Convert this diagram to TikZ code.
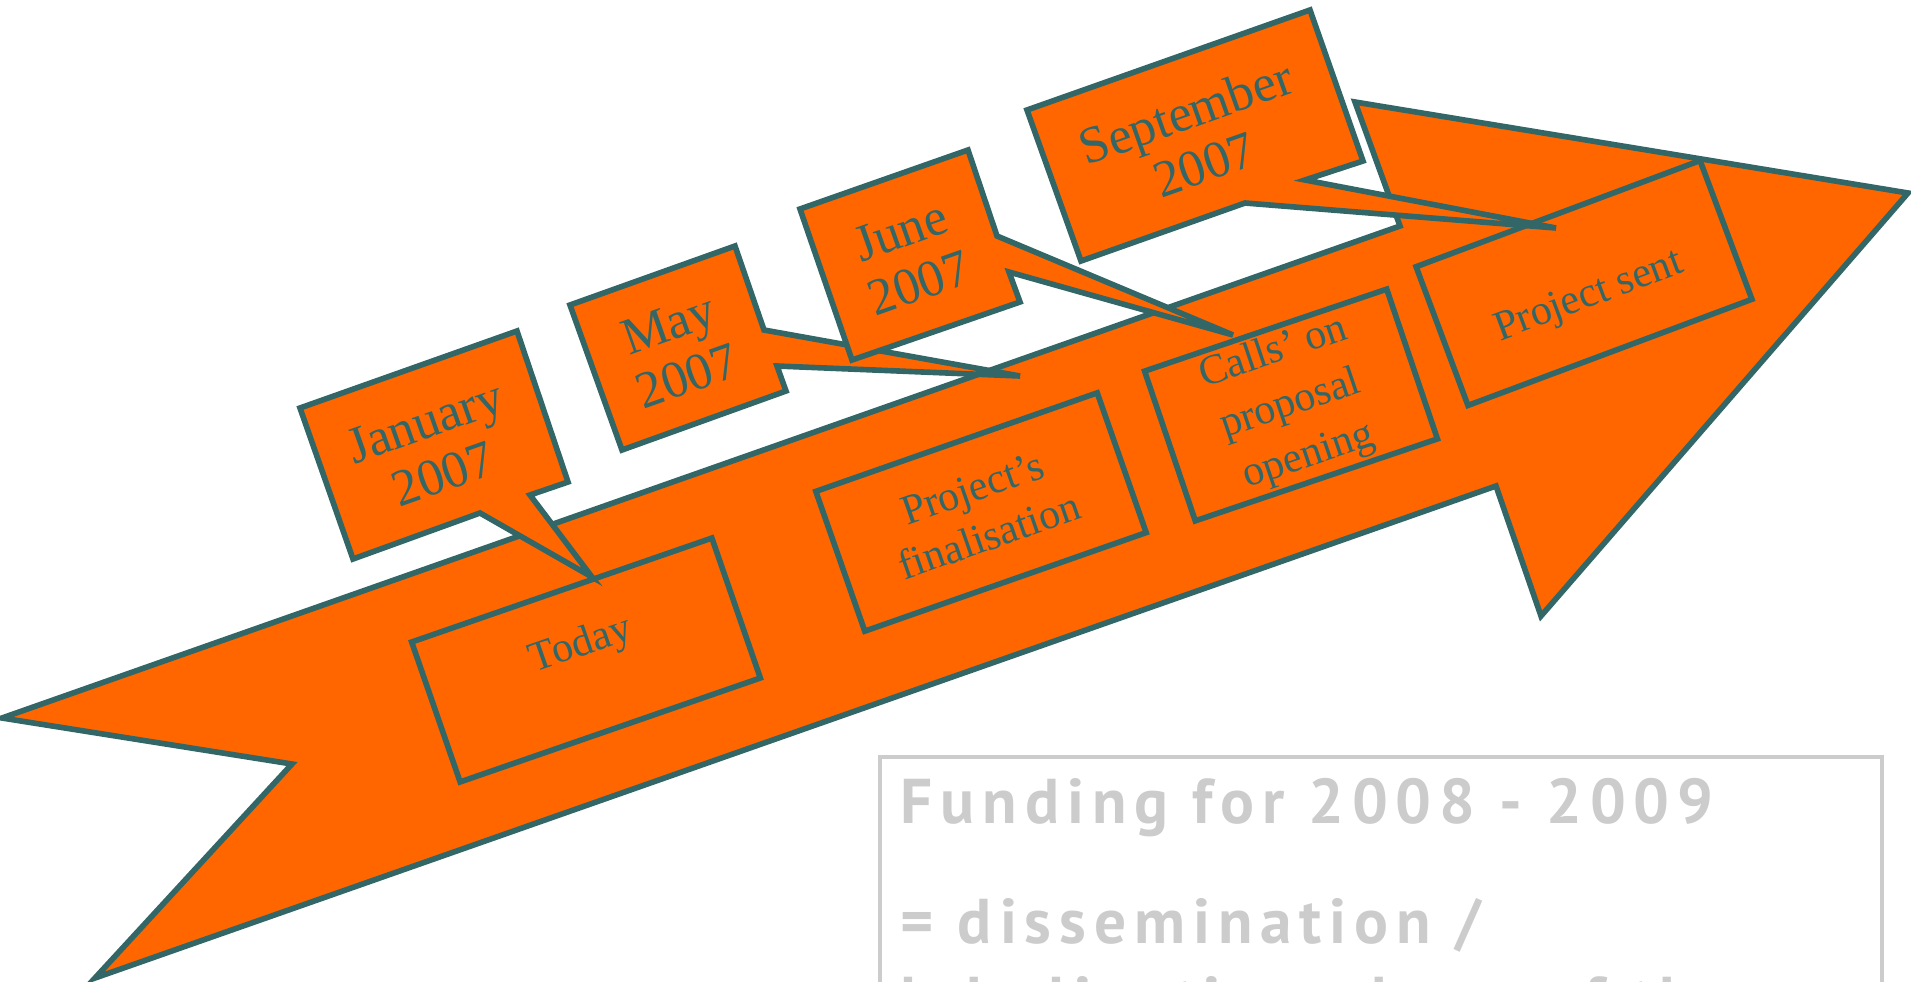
\documentclass[tikz,border=0pt]{standalone}
\usepackage{fontspec}
\setmainfont{Liberation Serif}
\newfontfamily\fundfont[LetterSpace=12.5]{PT Sans}
\definecolor{tealc}{HTML}{336666}
\definecolor{orng}{HTML}{FF6600}
\definecolor{lgray}{HTML}{CCCCCC}
\begin{document}
\begin{tikzpicture}[x=0.01cm,y=-0.01cm,
  shapeline/.style={draw=tealc, line width=1.6pt, fill=orng, line join=miter},
  boxnode/.style={shapeline, minimum height=1.48cm, inner sep=0pt, align=center, text=tealc, font=\fontsize{12}{14.5}\selectfont},
  calltext/.style={text=tealc, align=center, font=\fontsize{14.8}{15.8}\selectfont, rotate=19.5},
  fundtext/.style={anchor=base west, text=lgray, inner sep=0pt, font=\fundfont\bfseries\fontsize{18}{20}\selectfont}
]
\useasboundingbox (0,0) rectangle (1911,981);
\clip (0,0) rectangle (1911,981);
% big arrow
\draw[shapeline] (2,718) -- (1400,226) -- (1355,102) -- (1908,193) -- (1541,616) -- (1496,486) -- (95,978) -- (292,764) -- cycle;
% step boxes
\node[boxnode, rotate=19.1, minimum width=3.175cm] (today) at (586,660) {\raisebox{0.05cm}[0pt][0pt]{Today}};
\node[boxnode, rotate=19.3, minimum width=2.98cm] (final) at (981,512) {Project’s\\finalisation};
\node[boxnode, rotate=18.7, minimum width=2.555cm, minimum height=1.58cm, font=\fontsize{12}{15.5}\selectfont] (calls) at (1291,405) {Calls’ on\\proposal\\opening};
\node[boxnode, rotate=20.5, minimum width=3.03cm] (sent) at (1584,283) {\raisebox{-0.25cm}[0pt][0pt]{Project sent}};
% callouts
\draw[shapeline] (300,408) -- (517,331) -- (568,482) -- (530,495) -- (592,577) -- (480,513) -- (353,559) -- cycle;
\node[calltext] (jan) at (434,448) {January\\2007};
\draw[shapeline] (570,305) -- (735,246) -- (764,330) -- (1020,376) -- (777,366) -- (786,391) -- (622,450) -- cycle;
\node[calltext] (may) at (678,350) {May\\2007};
\draw[shapeline] (800,209) -- (968,150) -- (997,236) -- (1233,335) -- (1009,272) -- (1020,302) -- (852,360) -- cycle;
\node[calltext] (jun) at (910,257) {June\\2007};
\draw[shapeline] (1027,110) -- (1310,10) -- (1363,161) -- (1305,180) -- (1556,228) -- (1245,203) -- (1081,261) -- cycle;
\node[calltext] (sep) at (1195,138) {September\\2007};
% funding box
\draw[lgray, line width=1.3pt] (880,990) -- (880,757) -- (1882,757) -- (1882,990);
\node[fundtext] (fund1) at (900,823) {Funding for 2008 - 2009};
\node[fundtext] (fund2) at (900,943) {= dissemination /};
\node[fundtext] (fund3) at (900,1021) {labelisation phase of the};
\end{tikzpicture}
\end{document}
